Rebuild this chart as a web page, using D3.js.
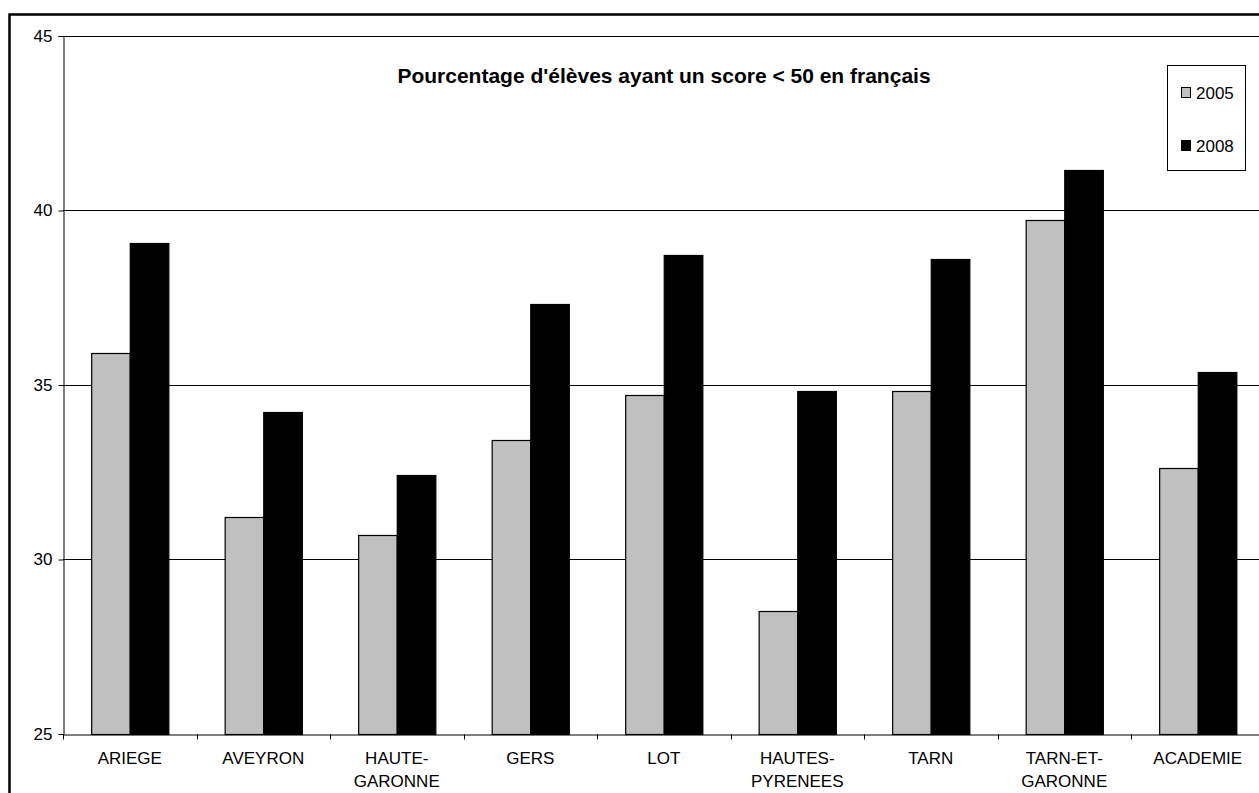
<!DOCTYPE html>
<html>
<head>
<meta charset="utf-8">
<script src="https://cdn.jsdelivr.net/npm/d3@7"></script>
<style>
  html, body { margin: 0; padding: 0; background: #fff; }
  svg { display: block; }
  text { font-family: "Liberation Sans", Arial, sans-serif; fill: #000; }
</style>
</head>
<body>
<svg id="chart" width="1259" height="793"></svg>
<script>
// ---- data ----
const categories = ["ARIEGE", "AVEYRON", "HAUTE-\nGARONNE", "GERS", "LOT", "HAUTES-\nPYRENEES", "TARN", "TARN-ET-\nGARONNE", "ACADEMIE"];
const seriesNames = ["2005", "2008"];
const values2005 = [35.9, 31.2, 30.7, 33.4, 34.7, 28.5, 34.8, 39.7, 32.6];
const values2008 = [39.05, 34.2, 32.4, 37.3, 38.7, 34.8, 38.6, 41.15, 35.35];
const yTicks = [25, 30, 35, 40, 45];
const title = "Pourcentage d'élèves ayant un score < 50 en français";

const seriesValues = [values2005, values2008];
const seriesColors = ["#c0c0c0", "#000000"];

const svg = d3.select("#chart");

// outer frame
svg.append("rect")
  .attr("x", 9.5).attr("y", 14.5)
  .attr("width", 1300).attr("height", 850)
  .attr("fill", "#fff").attr("stroke", "#000").attr("stroke-width", 2.5);

const plotLeft = 63, plotBottom = 733.5, plotTop = 35.5;
const step = 133.5;

const x0 = d3.scaleBand().domain(d3.range(categories.length))
  .range([plotLeft, plotLeft + step * categories.length]).paddingInner(0).paddingOuter(0);
const x1 = d3.scaleBand().domain(seriesNames)
  .range([0, x0.bandwidth()]).paddingInner(0).paddingOuter(0.73);
const y = d3.scaleLinear().domain([25, 45]).range([plotBottom, plotTop]);

// gridlines
svg.append("g").selectAll("line").data(yTicks.filter(t => t > 25)).join("line")
  .attr("x1", plotLeft).attr("x2", 1300)
  .attr("y1", d => Math.round(y(d)) + 0.5).attr("y2", d => Math.round(y(d)) + 0.5)
  .attr("stroke", "#000").attr("stroke-width", 1);

// bars
const groups = svg.append("g").selectAll("g").data(categories).join("g")
  .attr("transform", (d, i) => `translate(${x0(i)},0)`);
groups.selectAll("rect").data((d, i) => seriesNames.map((s, k) => ({ s, k, v: seriesValues[k][i] })))
  .join("rect")
  .attr("x", d => x1(d.s) + 0.5)
  .attr("y", d => Math.round(y(d.v)) + 0.5)
  .attr("width", x1.bandwidth())
  .attr("height", d => Math.round(y(25)) - Math.round(y(d.v)))
  .attr("fill", d => seriesColors[d.k])
  .attr("stroke", "#000").attr("stroke-width", 1.2);

// y axis
const yAxis = d3.axisLeft(y).tickValues(yTicks).tickSize(5).tickPadding(6).tickFormat(d3.format("d"));
const gy = svg.append("g").attr("transform", `translate(${plotLeft + 0.5},0.5)`).call(yAxis);
gy.select(".domain").attr("stroke", "#000");
gy.selectAll(".tick line").attr("stroke", "#000");
gy.selectAll(".tick text").attr("font-size", 17).attr("font-family", "Liberation Sans, Arial, sans-serif").attr("fill", "#000");

// x axis
const xAxis = d3.axisBottom(x0).tickValues([]).tickSizeOuter(0);
const gx = svg.append("g").attr("transform", `translate(0,${Math.round(plotBottom) + 0.5})`).call(xAxis);
gx.select(".domain").attr("stroke", "#000");
const bounds = d3.range(categories.length + 1).map(i => plotLeft + i * step);
gx.selectAll("line.bnd").data(bounds).join("line").attr("class", "bnd")
  .attr("x1", d => Math.round(d) + 0.5).attr("x2", d => Math.round(d) + 0.5)
  .attr("y1", 0).attr("y2", 5).attr("stroke", "#000");

// category labels
const labels = svg.append("g").selectAll("text").data(categories).join("text")
  .attr("text-anchor", "middle")
  .attr("font-size", 17)
  .attr("transform", (d, i) => `translate(${x0(i) + x0.bandwidth() / 2},763.5)`);
labels.selectAll("tspan").data(d => d.split("\n")).join("tspan")
  .attr("x", 0).attr("y", (d, j) => j * 23).text(d => d);

// title
svg.append("text").attr("x", 664).attr("y", 83).attr("text-anchor", "middle")
  .attr("font-size", 21).attr("font-weight", "bold").text(title);

// legend
const lg = svg.append("g");
lg.append("rect").attr("x", 1167.5).attr("y", 65.5).attr("width", 78).attr("height", 105)
  .attr("fill", "#fff").attr("stroke", "#000");
seriesNames.forEach((s, k) => {
  const yy = 87 + k * 53;
  lg.append("rect").attr("x", 1181.5).attr("y", yy + 0.5).attr("width", 9).attr("height", 10)
    .attr("fill", seriesColors[k]).attr("stroke", "#000");
  lg.append("text").attr("x", 1196).attr("y", yy + 12).attr("font-size", 17).text(s);
});
</script>
</body>
</html>
